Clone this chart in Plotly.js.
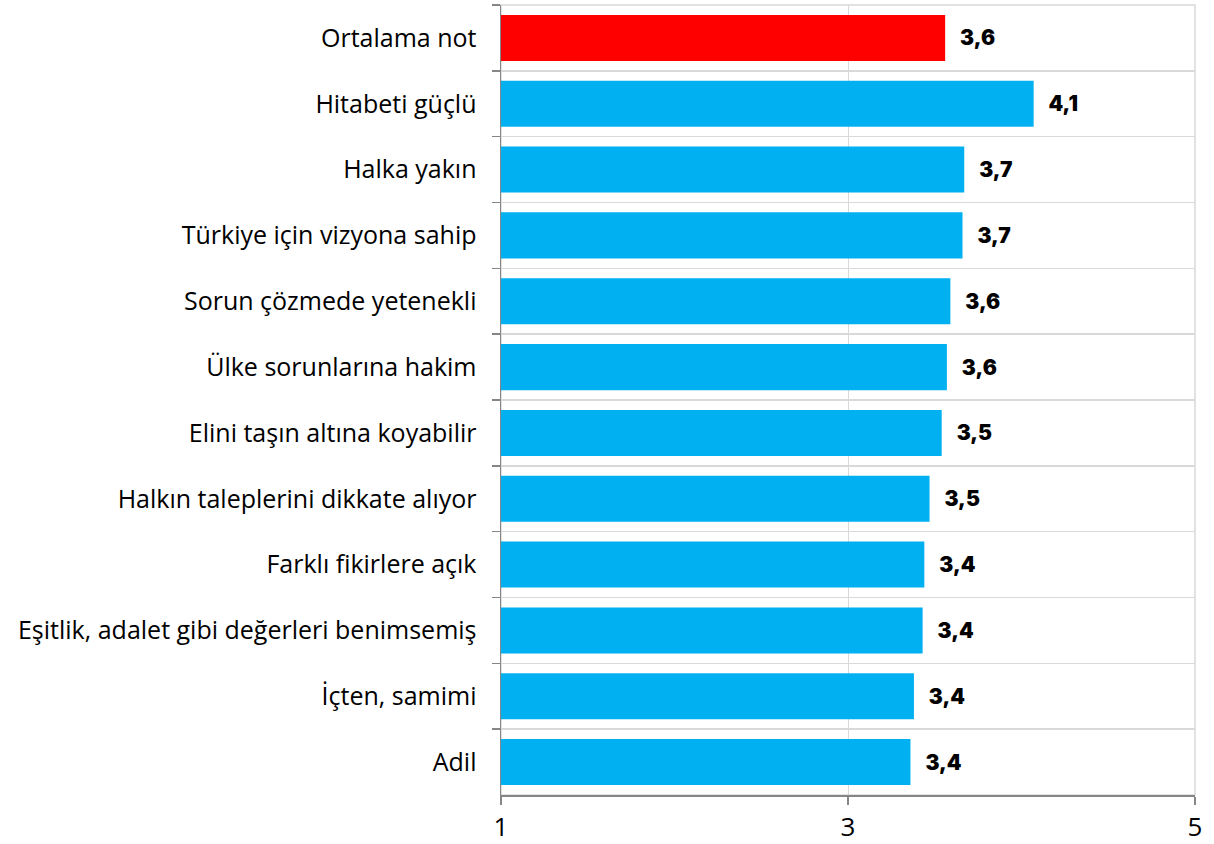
<!DOCTYPE html>
<html>
<head>
<meta charset="utf-8">
<script src="https://cdn.plot.ly/plotly-3.0.1.min.js"></script>
<style>html,body{margin:0;padding:0;background:#fff;}#chart{width:1214px;height:844px;}</style>
</head>
<body>
<div id="chart"></div>
<script>
const categories = [
  "Ortalama not",
  "Hitabeti güçlü",
  "Halka yakın",
  "Türkiye için vizyona sahip",
  "Sorun çözmede yetenekli",
  "Ülke sorunlarına hakim",
  "Elini taşın altına koyabilir",
  "Halkın taleplerini dikkate alıyor",
  "Farklı fikirlere açık",
  "Eşitlik, adalet gibi değerleri benimsemiş",
  "İçten, samimi",
  "Adil"
];
const values = [3.56, 4.07, 3.67, 3.66, 3.59, 3.57, 3.54, 3.47, 3.44, 3.43, 3.38, 3.36];
const barColors = ["#FF0000","#00B0F0","#00B0F0","#00B0F0","#00B0F0","#00B0F0","#00B0F0","#00B0F0","#00B0F0","#00B0F0","#00B0F0","#00B0F0"];
const xTicks = [1, 3, 5];
const axisMin = 1;

const trace = {
  type: "bar",
  orientation: "h",
  x: values.map(v => v - axisMin),
  y: categories,
  base: axisMin,
  marker: {color: barColors, line: {width: 0}},
  texttemplate: values.map(v => "\u2002\u200A" + v.toFixed(1).replace(".", ",")),
  textposition: "outside",
  cliponaxis: false,
  textfont: {family: "Inter", size: 21, color: "#000", weight: 900},
  hoverinfo: "skip"
};

const layout = {
  width: 1214,
  height: 844,
  margin: {l: 501, r: 19, t: 5, b: 49},
  paper_bgcolor: "#fff",
  plot_bgcolor: "#fff",
  showlegend: false,
  bargap: 0.3,
  xaxis: {
    range: [1, 5],
    tickvals: xTicks,
    ticktext: xTicks.map(String),
    showgrid: true,
    gridcolor: "#D9D9D9",
    gridwidth: 1,
    zeroline: false,
    showline: true,
    linecolor: "#868686",
    linewidth: 1.5,
    ticks: "outside",
    ticklen: 8,
    tickwidth: 1.5,
    tickcolor: "#868686",
    tickfont: {family: "Open Sans", size: 26, color: "#000"},
    fixedrange: true
  },
  yaxis: {
    type: "category",
    categoryorder: "array",
    categoryarray: categories,
    autorange: "reversed",
    tickson: "boundaries",
    showgrid: true,
    gridcolor: "#D9D9D9",
    gridwidth: 1.5,
    showline: true,
    linecolor: "#868686",
    linewidth: 1.5,
    ticks: "outside",
    ticklen: 8,
    tickwidth: 1.5,
    tickcolor: "#868686",
    ticklabelstandoff: 18,
    tickfont: {family: "Open Sans", size: 25, color: "#000"},
    fixedrange: true
  },
  shapes: [{
    type: "rect", xref: "paper", yref: "paper", x0: 0, x1: 1, y0: 0, y1: 1,
    line: {color: "#D9D9D9", width: 1.5}, layer: "below"
  }]
};

Plotly.newPlot("chart", [trace], layout, {displayModeBar: false, staticPlot: true});
</script>
</body>
</html>
